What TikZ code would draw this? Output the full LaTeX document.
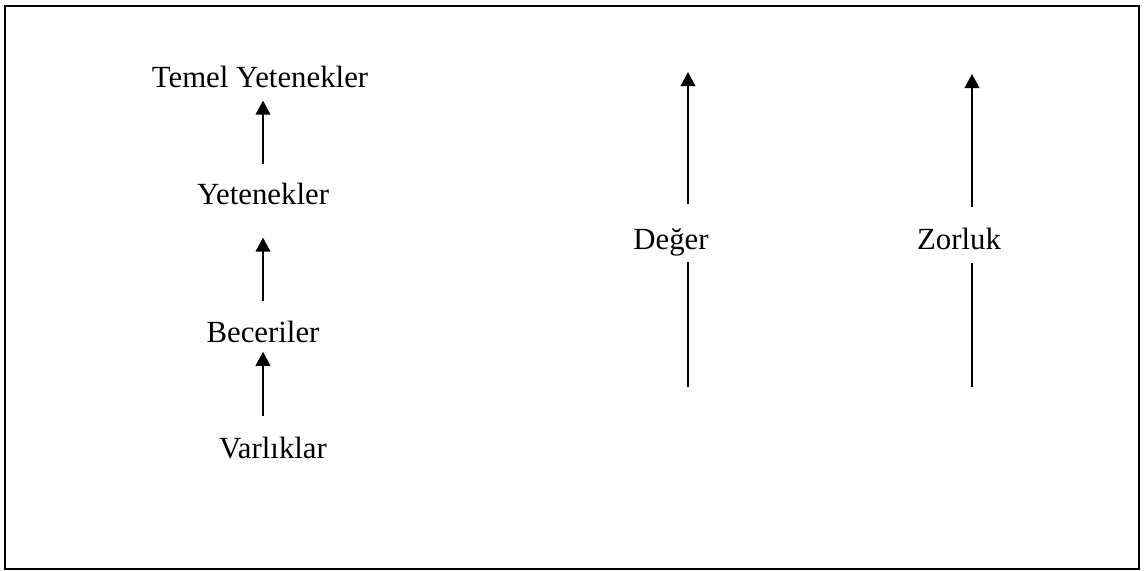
\documentclass[tikz,border=0pt]{standalone}
\usepackage{fontspec}
\setmainfont{Liberation Serif}
\usetikzlibrary{arrows.meta, positioning}

\begin{document}
\begin{tikzpicture}[
    x=0.025cm, y=-0.025cm,
    term/.style={inner sep=0pt, anchor=base, font=\fontsize{21.9}{26}\selectfont},
    arrow/.style={-{Triangle[width=10.5pt, length=10pt]}, line width=1pt},
    plain/.style={line width=1pt},
    frame/.style={draw, line width=0.8pt}
]

    % Canvas and outer frame
    \useasboundingbox (0,0) rectangle (1144,571);
    \draw[frame] (5,6) rectangle (1139,569);

    % Left chain nodes
    \node[term] (temel) at (260,88) {Temel Yetenekler};
    \node[term] (yet) at (263,205) {Yetenekler};
    \node[term] (becer) at (263,342) {Beceriler};
    \node[term] (varlik) at (273,458) {Varlıklar};

    % Edges of the left chain
    \draw[arrow, shorten <=0.49cm, shorten >=0.3cm] (yet.north) -- (yet.north |- temel.south);
    \draw[arrow, shorten <=0.49cm, shorten >=0.8cm] (becer.north) -- (yet.south);
    \draw[arrow, shorten <=0.52cm, shorten >=0.23cm] (varlik.north -| becer.south) -- (becer.south);

    % Value and difficulty axes
    \node[term] (deger) at (671,249) {Değer};
    \node[term] (zorluk) at (959,249) {Zorluk};
    \coordinate (dtop) at (688,72);
    \coordinate (dbot) at (688,387);
    \coordinate (ztop) at (972,74);
    \coordinate (zbot) at (972,387);

    \draw[arrow, shorten <=0.6cm] (deger.north -| dtop) -- (dtop);
    \draw[plain, shorten >=0.16cm] (dbot) -- (deger.south -| dbot);
    \draw[arrow, shorten <=0.52cm] (zorluk.north -| ztop) -- (ztop);
    \draw[plain, shorten >=0.33cm] (zbot) -- (zorluk.south -| zbot);

\end{tikzpicture}
\end{document}
